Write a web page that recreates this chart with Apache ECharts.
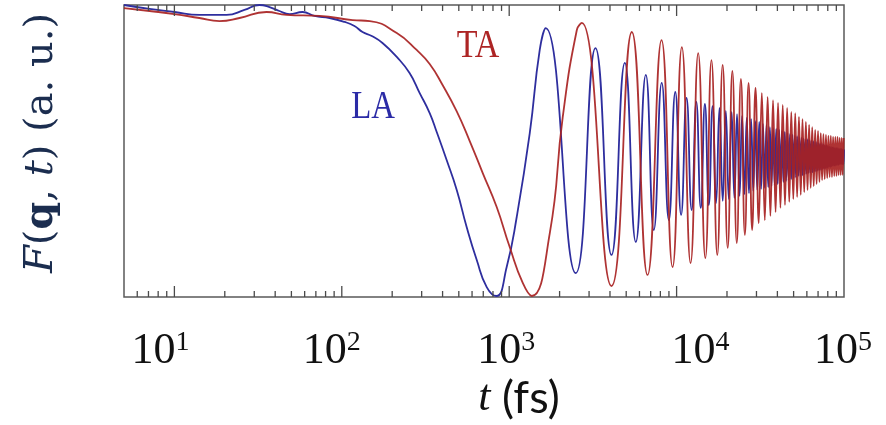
<!DOCTYPE html>
<html><head><meta charset="utf-8">
<script src="https://cdn.jsdelivr.net/npm/echarts@6/dist/echarts.min.js"></script>
<style>html,body{margin:0;padding:0;background:#fff}#c{width:886px;height:425px}</style>
</head><body><div id="c"></div>
<script>
// ---- data (time in fs, normalised F) ----
const laT0 = [5,7.1,10,14.1,20.5,26.2,32.2,37,42.4,48.7,
  58.3,68.7,84.5,104,119,133,151,175,213,254,
  292,335,369,423,486,557,640,734,838,966,
  1109,1327,1522,1652,2498,3277,4084,4905,5706,6548,
  7311,8150,8990,9820,10640,11470,12300,13120];
const laF0 = [1.0,0.973,0.952,0.932,0.932,0.966,1.0,0.986,0.959,0.938,
  0.952,0.925,0.911,0.884,0.856,0.815,0.788,0.74,0.644,0.534,
  0.397,0.260,0.130,-0.062,-0.267,-0.521,-0.747,-0.932,-0.993,-0.795,
  -0.452,0.123,0.692,0.842,-0.836,0.705,-0.712,0.603,-0.623,0.521,
  -0.541,0.466,-0.473,0.404,-0.438,0.363,-0.404,0.336];
const laT1 = [13940,14760,15580,16400,17220,18040,18860,19680,20500,21320,
  22140,22960,23780,24600,25420,26240,27060,27880,28700,29520,
  30340,31160,31980,32800,33620,34440,35260,36080,36900,37720,
  38540,39360,40180,41000,41820,42640,43460,44280,45100,45920,
  46740,47560,48380,49200,50020,50840];
const laF1 = [-0.39,0.322,-0.37,0.308,-0.356,0.295,-0.342,0.274,-0.329,0.267,
  -0.322,0.253,-0.308,0.24,-0.295,0.226,-0.288,0.219,-0.274,0.205,
  -0.267,0.199,-0.26,0.185,-0.253,0.178,-0.247,0.164,-0.24,0.158,
  -0.233,0.151,-0.226,0.144,-0.219,0.137,-0.212,0.13,-0.205,0.123,
  -0.199,0.116,-0.192,0.11,-0.185,0.103];
const laT2 = [51660,52480,53300,54120,54940,55760,56580,57400,58220,59040,
  59860,60680,61500,62320,63140,63960,64780,65600,66420,67240,
  68060,68880,69700,70520,71340,72160,72980,73800,74620,75440,
  76260,77080,77900,78720,79540,80360,81180,82000,82820,83640,
  84460,85280,86100,86920,87740,88560,89380,90200,91020,91840,
  92660,93480,94300,95120,95940,96760,97580,98400,99220,100040];
const laF2 = [-0.18,0.1,-0.17,0.095,-0.17,0.09,-0.165,0.085,-0.16,0.08,
  -0.155,0.08,-0.15,0.075,-0.15,0.07,-0.145,0.065,-0.14,0.06,
  -0.14,0.06,-0.135,0.055,-0.13,0.05,-0.13,0.05,-0.125,0.045,
  -0.12,0.04,-0.12,0.04,-0.115,0.035,-0.11,0.03,-0.11,0.03,
  -0.105,0.025,-0.1,0.025,-0.1,0.02,-0.1,0.02,-0.095,0.02,
  -0.095,0.015,-0.09,0.015,-0.09,0.015,-0.09,0.01,-0.09,0.01];

const taT0 = [5,7.1,10,14.1,18.6,24.5,35.5,46.8,73.6,116,
  147,213,280,335,400,486,581,695,842,1007,
  1205,1364,1748,2089,2535,2716,4084,5401,6706,8128,
  9459,10750,12120,13460];
const taF0 = [0.979,0.959,0.938,0.911,0.89,0.911,0.952,0.932,0.925,0.897,
  0.890,0.808,0.692,0.596,0.452,0.271,0.068,-0.151,-0.384,-0.658,
  -0.904,-0.993,-0.562,0.233,0.829,0.877,-0.925,0.815,-0.849,0.76,
  -0.795,0.712,-0.767,0.671];
const taT1 = [14850,16152,17504,18842,20194,21532,22884,24222,25574,26912,
  28264,29602,30954,32292,33644,34982,36334,37672,39024,40362,
  41714,43052,44404,45742,47094,48432,49784,51122,52474,53812,
  55164,56502,57854,59192,60544,61882,63234,64572,65924,67262,
  68614,69952,71304,72642,73994,75332,76684,78022,79374,80712,
  82064,83402,84754,86092,87444,88782,90134,91472,92824,94162,
  95514,96852,98204,99542];
const taF1 = [-0.733,0.623,-0.712,0.589,-0.664,0.548,-0.630,0.493,-0.575,0.466,
  -0.541,0.432,-0.493,0.397,-0.473,0.370,-0.445,0.349,-0.418,0.329,
  -0.390,0.315,-0.370,0.295,-0.349,0.267,-0.329,0.260,-0.315,0.233,
  -0.301,0.219,-0.281,0.199,-0.267,0.178,-0.253,0.164,-0.240,0.144,
  -0.226,0.137,-0.212,0.123,-0.199,0.116,-0.192,0.110,-0.185,0.103,
  -0.178,0.103,-0.178,0.096,-0.171,0.096,-0.171,0.096,-0.164,0.089,
  -0.164,0.089,-0.164,0.089];

const majorTicks = [10,100,1000,10000];
const minorTicks = [6,7,8,9,20,30,40,50,60,70,80,90,200,300,400,500,600,700,800,900,
  2000,3000,4000,5000,6000,7000,8000,9000,20000,30000,40000,50000,60000,70000,80000,90000];

// ---- build ----
function zip(t, f){ const n = Math.min(t.length, f.length); const out = []; for (let i=0;i<n;i++) out.push([t[i], f[i]]); return out; }
const laData = zip(laT0, laF0).concat(zip(laT1, laF1), zip(laT2, laF2));
const taData = zip(taT0, taF0).concat(zip(taT1, taF1));

const labelShift = {1:-14, 2:-10, 3:-3, 4:24, 5:-1};
const serif = "'Liberation Serif','DejaVu Serif',serif";
const wideSerif = "'DejaVu Serif','Liberation Serif',serif";

function tickSeries(values, len){
  return {
    type: 'custom', silent: true, z: 5,
    data: values.map(v => [v, 0]),
    encode: {x: 0, y: 1},
    renderItem: function(params, api){
      const v = api.value(0);
      const pb = api.coord([v, -1]);
      const pt = api.coord([v, 1]);
      const st = {stroke: '#4a4a4a', lineWidth: 1.3};
      return {type: 'group', children: [
        {type: 'line', shape: {x1: pb[0], y1: pb[1], x2: pb[0], y2: pb[1] - len}, style: st},
        {type: 'line', shape: {x1: pt[0], y1: pt[1], x2: pt[0], y2: pt[1] + len}, style: st}
      ]};
    }
  };
}

const chart = echarts.init(document.getElementById('c'), null, {renderer: 'canvas'});
const rich = {
  b: {fontFamily: serif, fontSize: 44, lineHeight: 44, color: '#111', verticalAlign: 'bottom'},
  s: {fontFamily: serif, fontSize: 28, lineHeight: 28, color: '#111', verticalAlign: 'top'}
};
Object.keys(labelShift).forEach(k => { rich['sp' + k] = {width: Math.abs(labelShift[k]) * 2, fontSize: 10}; });

chart.setOption({
  animation: false,
  backgroundColor: '#fff',
  grid: {left: 124, right: 42, top: 5, bottom: 128, show: true, borderColor: '#5a5a5a', borderWidth: 1.5, backgroundColor: 'transparent'},
  xAxis: {
    type: 'log', logBase: 10, min: 5, max: 100000,
    axisLine: {show: false}, axisTick: {show: false}, splitLine: {show: false},
    axisLabel: {
      interval: 0, showMinLabel: true, showMaxLabel: true, hideOverlap: false,
      margin: 32, rich: rich,
      formatter: function(v){
        const e = Math.log10(v); const r = Math.round(e);
        if (Math.abs(e - r) > 1e-6 || r < 1) return '';
        const s = labelShift[r] || 0;
        let str = '{b|10}{s|' + r + '}';
        if (s < 0) str = str + '{sp' + r + '| }';
        else if (s > 0) str = '{sp' + r + '| }' + str;
        return str;
      }
    }
  },
  yAxis: {type: 'value', min: -1, max: 1, show: false},
  series: [
    {name: 'LA', type: 'line', data: laData, showSymbol: false, smooth: 0.5, z: 2,
      lineStyle: {color: '#2e2e9e', width: 1.8}, itemStyle: {color: '#2e2e9e'}},
    {name: 'TA', type: 'line', data: taData, showSymbol: false, smooth: 0.5, z: 3,
      lineStyle: {color: '#a82222', width: 1.8, opacity: 0.92}, itemStyle: {color: '#a82222'}},
    tickSeries(majorTicks, 11),
    tickSeries(minorTicks, 6)
  ],
  graphic: [
    {type: 'text', x: 42, y: 143, rotation: Math.PI / 2, z: 10,
      style: {text: '{i|F}{r|(}{b|q}{r|, }{i|t}{r|) (a. u.)}', align: 'center', verticalAlign: 'middle',
        rich: {
          i: {fontFamily: wideSerif, fontStyle: 'italic', fontSize: 40, fill: '#1b2d4f', color: '#1b2d4f'},
          r: {fontFamily: wideSerif, fontSize: 40, fill: '#1b2d4f', color: '#1b2d4f'},
          b: {fontFamily: wideSerif, fontWeight: 'bold', fontSize: 40, fill: '#1b2d4f', color: '#1b2d4f'}
        }}},
    {type: 'text', x: 519, y: 398, z: 10,
      style: {text: '{i|t}{r| (fs)}', align: 'center', verticalAlign: 'middle',
        rich: {
          i: {fontFamily: serif, fontStyle: 'italic', fontSize: 44, fill: '#111', color: '#111'},
          r: {fontFamily: "Lato, 'Open Sans', sans-serif", fontSize: 45, fill: '#111', color: '#111'}
        }}},
    {type: 'text', x: 373, y: 107, z: 10, scaleX: 0.82,
      style: {text: 'LA', fontFamily: serif, fontSize: 40, fill: '#2b2ba6', align: 'center', verticalAlign: 'middle'}},
    {type: 'text', x: 478, y: 46, z: 10, scaleX: 0.85,
      style: {text: 'TA', fontFamily: serif, fontSize: 40, fill: '#ad2424', align: 'center', verticalAlign: 'middle'}}
  ]
});
</script>
</body></html>
